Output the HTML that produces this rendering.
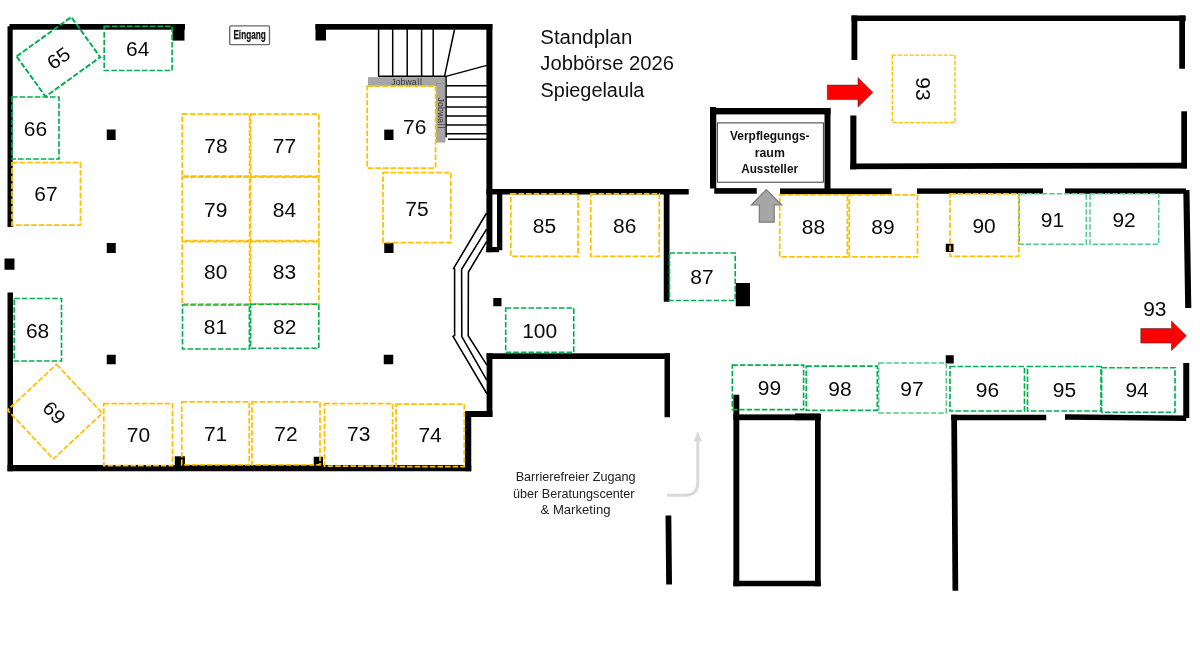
<!DOCTYPE html>
<html><head><meta charset="utf-8"><title>Standplan Jobbörse 2026</title>
<style>
html,body{margin:0;padding:0;background:#fff;}
body{width:1200px;height:672px;overflow:hidden;font-family:"Liberation Sans",sans-serif;}
svg{display:block;font-family:"Liberation Sans",sans-serif;will-change:transform;transform:translateZ(0);}
</style></head><body>
<svg width="1200" height="672" viewBox="0 0 1200 672">
<rect width="1200" height="672" fill="#fff"/>
<g id="walls">
<rect x="9.50" y="24.00" width="175.50" height="5.70" fill="#000"/>
<rect x="7.50" y="26.30" width="5.20" height="200.70" fill="#000"/>
<rect x="172.50" y="24.00" width="12.00" height="16.60" fill="#000"/>
<rect x="315.50" y="24.00" width="176.90" height="5.70" fill="#000"/>
<rect x="315.50" y="24.00" width="10.50" height="16.50" fill="#000"/>
<rect x="486.40" y="24.00" width="6.00" height="228.20" fill="#000"/>
<rect x="486.40" y="189.00" width="202.35" height="5.50" fill="#000"/>
<rect x="497.00" y="194.00" width="5.30" height="56.20" fill="#000"/>
<rect x="486.40" y="247.00" width="12.60" height="5.20" fill="#000"/>
<rect x="663.75" y="189.00" width="5.75" height="112.75" fill="#000"/>
<rect x="7.50" y="292.50" width="5.50" height="178.75" fill="#000"/>
<rect x="7.50" y="465.00" width="463.75" height="6.25" fill="#000"/>
<rect x="465.00" y="411.00" width="6.25" height="60.25" fill="#000"/>
<rect x="465.00" y="411.00" width="27.40" height="6.00" fill="#000"/>
<rect x="486.60" y="353.30" width="5.80" height="63.70" fill="#000"/>
<rect x="486.60" y="353.30" width="183.40" height="5.70" fill="#000"/>
<rect x="664.50" y="353.30" width="5.50" height="63.95" fill="#000"/>
<polygon points="665.50,515.50 671.30,515.50 672.00,584.50 666.20,584.50" fill="#000" />
<rect x="106.75" y="129.50" width="8.85" height="10.50" fill="#000"/>
<rect x="106.75" y="243.00" width="9.00" height="10.00" fill="#000"/>
<rect x="106.75" y="354.75" width="9.00" height="9.50" fill="#000"/>
<rect x="384.25" y="129.60" width="9.25" height="10.40" fill="#000"/>
<rect x="384.25" y="243.00" width="9.25" height="10.00" fill="#000"/>
<rect x="383.75" y="354.75" width="9.50" height="9.50" fill="#000"/>
<rect x="4.50" y="258.50" width="10.00" height="11.25" fill="#000"/>
<rect x="493.30" y="298.00" width="8.20" height="8.25" fill="#000"/>
<rect x="735.75" y="283.00" width="14.25" height="23.25" fill="#000"/>
<rect x="945.75" y="243.75" width="7.75" height="8.25" fill="#000"/>
<rect x="945.75" y="355.25" width="8.00" height="8.25" fill="#000"/>
<rect x="174.80" y="456.30" width="10.10" height="9.70" fill="#000"/>
<rect x="313.75" y="456.75" width="9.25" height="9.25" fill="#000"/>
<rect x="710.00" y="107.00" width="6.25" height="81.50" fill="#000"/>
<rect x="710.00" y="108.00" width="120.50" height="6.40" fill="#000"/>
<rect x="824.50" y="108.00" width="6.00" height="81.00" fill="#000"/>
<rect x="714.25" y="188.10" width="42.50" height="5.65" fill="#000"/>
<rect x="780.00" y="188.40" width="111.60" height="5.80" fill="#000"/>
<rect x="917.00" y="188.40" width="126.00" height="5.40" fill="#000"/>
<rect x="1065.00" y="188.40" width="121.00" height="5.40" fill="#000"/>
<polygon points="1183.30,190.00 1189.50,190.00 1191.30,308.00 1185.20,308.00" fill="#000" />
<rect x="851.50" y="15.50" width="334.25" height="5.50" fill="#000"/>
<rect x="851.50" y="15.50" width="5.80" height="44.50" fill="#000"/>
<rect x="850.30" y="115.50" width="6.10" height="53.80" fill="#000"/>
<polygon points="850.30,163.40 1187.00,162.70 1187.00,168.40 850.30,169.30" fill="#000" />
<rect x="1179.25" y="15.50" width="5.75" height="53.25" fill="#000"/>
<rect x="1181.30" y="111.30" width="5.70" height="57.10" fill="#000"/>
<rect x="733.40" y="394.75" width="5.90" height="191.50" fill="#000"/>
<rect x="733.40" y="414.40" width="87.20" height="5.80" fill="#000"/>
<rect x="795.00" y="413.40" width="25.60" height="6.80" fill="#000"/>
<rect x="815.00" y="414.00" width="5.70" height="172.25" fill="#000"/>
<rect x="733.40" y="580.75" width="87.30" height="5.50" fill="#000"/>
<polygon points="951.25,414.75 957.00,414.75 958.25,590.75 952.50,590.75" fill="#000" />
<rect x="951.25" y="414.75" width="95.00" height="5.50" fill="#000"/>
<polygon points="1065.00,414.25 1186.25,415.60 1186.25,421.00 1065.00,419.75" fill="#000" />
<rect x="1183.25" y="363.00" width="6.00" height="55.00" fill="#000"/>
</g>
<g id="stairs">
<polyline points="378.60,29.00 378.60,76.40" fill="none" stroke="#000" stroke-width="1.5" />
<polyline points="392.70,29.00 392.70,76.40" fill="none" stroke="#000" stroke-width="1.5" />
<polyline points="407.20,29.00 407.20,76.40" fill="none" stroke="#000" stroke-width="1.5" />
<polyline points="421.60,29.00 421.60,76.40" fill="none" stroke="#000" stroke-width="1.5" />
<polyline points="433.20,29.00 433.20,76.40" fill="none" stroke="#000" stroke-width="1.5" />
<polyline points="378.00,76.20 446.00,76.20" fill="none" stroke="#000" stroke-width="1.6" />
<polyline points="454.50,29.50 444.60,76.20" fill="none" stroke="#000" stroke-width="1.5" />
<polyline points="446.00,76.40 486.80,65.40" fill="none" stroke="#000" stroke-width="1.5" />
<polyline points="446.00,76.00 446.00,137.30" fill="none" stroke="#000" stroke-width="1.6" />
<polyline points="446.00,85.80 487.00,85.80" fill="none" stroke="#000" stroke-width="1.5" />
<polyline points="446.00,97.00 487.00,97.00" fill="none" stroke="#000" stroke-width="1.5" />
<polyline points="446.00,107.00 487.00,107.00" fill="none" stroke="#000" stroke-width="1.5" />
<polyline points="446.00,116.10 487.00,116.10" fill="none" stroke="#000" stroke-width="1.5" />
<polyline points="446.00,125.00 487.00,125.00" fill="none" stroke="#000" stroke-width="1.5" />
<polyline points="446.00,133.70 487.00,133.70" fill="none" stroke="#000" stroke-width="1.5" />
<polyline points="448.00,139.30 487.00,139.30" fill="none" stroke="#000" stroke-width="1.5" />
<polyline points="486.60,213.00 453.60,268.40 454.60,269.00 454.60,335.60 453.00,336.30 486.90,393.75" fill="none" stroke="#000" stroke-width="1.55" />
<polyline points="486.60,229.10 461.60,269.30 461.80,336.60 486.90,380.40" fill="none" stroke="#000" stroke-width="1.55" />
<polyline points="486.60,241.60 468.40,272.00 468.20,335.70 486.90,365.20" fill="none" stroke="#000" stroke-width="1.55" />
</g>
<rect x="368.4" y="77.7" width="76.6" height="7.6" fill="#A6A6A6" stroke="#8c8c8c" stroke-width="0.6"/>
<rect x="436.6" y="83.6" width="8.4" height="58.5" fill="#A6A6A6" stroke="#8c8c8c" stroke-width="0.6"/>
<text x="391.2" y="84.7" font-size="8.6" fill="#333" letter-spacing="0.15">Jobwa<tspan dx="0.45">l</tspan><tspan dx="0.75">l</tspan></text>
<text transform="translate(437.5,97.6) rotate(90)" font-size="8.6" fill="#333" letter-spacing="0.15">Jobwa<tspan dx="0.45">l</tspan><tspan dx="0.75">l</tspan></text>
<g id="stands">
<rect x="12.00" y="162.50" width="68.50" height="62.50" fill="none" stroke="#FFC000" stroke-width="1.75" stroke-dasharray="5.6 2.0" stroke-dashoffset="0"/>
<rect x="182.20" y="114.10" width="67.40" height="62.10" fill="none" stroke="#FFC000" stroke-width="1.75" stroke-dasharray="5.6 2.0" stroke-dashoffset="0"/>
<rect x="250.60" y="114.10" width="68.30" height="62.10" fill="none" stroke="#FFC000" stroke-width="1.75" stroke-dasharray="5.6 2.0" stroke-dashoffset="0"/>
<rect x="182.20" y="177.20" width="67.40" height="63.50" fill="none" stroke="#FFC000" stroke-width="1.75" stroke-dasharray="5.6 2.0" stroke-dashoffset="0"/>
<rect x="250.60" y="177.20" width="68.30" height="63.50" fill="none" stroke="#FFC000" stroke-width="1.75" stroke-dasharray="5.6 2.0" stroke-dashoffset="0"/>
<rect x="182.20" y="241.70" width="67.40" height="62.10" fill="none" stroke="#FFC000" stroke-width="1.75" stroke-dasharray="5.6 2.0" stroke-dashoffset="0"/>
<rect x="250.60" y="241.70" width="68.30" height="62.10" fill="none" stroke="#FFC000" stroke-width="1.75" stroke-dasharray="5.6 2.0" stroke-dashoffset="0"/>
<rect x="367.20" y="86.00" width="68.40" height="82.00" fill="none" stroke="#FFC000" stroke-width="1.75" stroke-dasharray="5.6 2.0" stroke-dashoffset="0"/>
<rect x="383.00" y="172.50" width="67.80" height="70.00" fill="none" stroke="#FFC000" stroke-width="1.75" stroke-dasharray="5.6 2.0" stroke-dashoffset="0"/>
<rect x="510.80" y="193.80" width="67.30" height="62.50" fill="none" stroke="#FFC000" stroke-width="1.75" stroke-dasharray="5.6 2.0" stroke-dashoffset="0"/>
<rect x="590.75" y="193.80" width="68.55" height="62.45" fill="none" stroke="#FFC000" stroke-width="1.75" stroke-dasharray="5.6 2.0" stroke-dashoffset="0"/>
<rect x="779.70" y="194.90" width="67.70" height="62.00" fill="none" stroke="#FFC000" stroke-width="1.75" stroke-dasharray="5.6 2.0" stroke-dashoffset="0"/>
<rect x="849.20" y="194.90" width="68.30" height="62.00" fill="none" stroke="#FFC000" stroke-width="1.75" stroke-dasharray="5.6 2.0" stroke-dashoffset="0"/>
<rect x="950.00" y="193.75" width="68.75" height="62.50" fill="none" stroke="#FFC000" stroke-width="1.75" stroke-dasharray="5.6 2.0" stroke-dashoffset="0"/>
<rect x="892.30" y="55.10" width="62.70" height="67.50" fill="none" stroke="#FFC000" stroke-width="1.45" stroke-dasharray="4.2 1.5" stroke-dashoffset="0"/>
<rect x="103.75" y="403.50" width="68.75" height="62.00" fill="none" stroke="#FFC000" stroke-width="1.75" stroke-dasharray="5.6 2.0" stroke-dashoffset="0"/>
<rect x="181.75" y="401.75" width="67.50" height="63.00" fill="none" stroke="#FFC000" stroke-width="1.75" stroke-dasharray="5.6 2.0" stroke-dashoffset="0"/>
<rect x="252.00" y="401.75" width="68.00" height="63.00" fill="none" stroke="#FFC000" stroke-width="1.75" stroke-dasharray="5.6 2.0" stroke-dashoffset="0"/>
<rect x="324.50" y="403.50" width="68.10" height="62.50" fill="none" stroke="#FFC000" stroke-width="1.75" stroke-dasharray="5.6 2.0" stroke-dashoffset="0"/>
<rect x="396.00" y="404.00" width="68.25" height="62.50" fill="none" stroke="#FFC000" stroke-width="1.75" stroke-dasharray="5.6 2.0" stroke-dashoffset="0"/>
<rect x="-33.50" y="-33.50" width="67.00" height="67.00" transform="translate(54.9,411.7) rotate(46.9)" fill="none" stroke="#FFC000" stroke-width="1.75" stroke-dasharray="5.6 2.0"/>
<rect x="104.20" y="26.30" width="67.90" height="44.20" fill="none" stroke="#00B050" stroke-width="1.65" stroke-dasharray="5.6 2.0" stroke-dashoffset="0"/>
<rect x="12.00" y="97.00" width="47.00" height="62.00" fill="none" stroke="#00B050" stroke-width="1.65" stroke-dasharray="5.6 2.0" stroke-dashoffset="0"/>
<rect x="14.25" y="298.50" width="47.25" height="62.50" fill="none" stroke="#00B050" stroke-width="1.65" stroke-dasharray="5.6 2.0" stroke-dashoffset="0"/>
<rect x="182.50" y="305.00" width="66.90" height="44.00" fill="none" stroke="#00B050" stroke-width="1.65" stroke-dasharray="5.6 2.0" stroke-dashoffset="0"/>
<rect x="250.60" y="304.20" width="68.20" height="44.00" fill="none" stroke="#00B050" stroke-width="1.65" stroke-dasharray="5.6 2.0" stroke-dashoffset="0"/>
<rect x="669.50" y="253.00" width="65.70" height="47.50" fill="none" stroke="#00B050" stroke-width="1.65" stroke-dasharray="5.6 2.0" stroke-dashoffset="0"/>
<rect x="505.70" y="308.00" width="68.05" height="44.30" fill="none" stroke="#00B050" stroke-width="1.65" stroke-dasharray="5.6 2.0" stroke-dashoffset="0"/>
<rect x="732.30" y="365.10" width="71.30" height="44.50" fill="none" stroke="#00B050" stroke-width="1.65" stroke-dasharray="5.6 2.0" stroke-dashoffset="0"/>
<rect x="806.30" y="366.10" width="71.00" height="44.20" fill="none" stroke="#00B050" stroke-width="1.65" stroke-dasharray="5.6 2.0" stroke-dashoffset="0"/>
<rect x="950.00" y="366.50" width="74.50" height="44.50" fill="none" stroke="#00B050" stroke-width="1.65" stroke-dasharray="5.6 2.0" stroke-dashoffset="0"/>
<rect x="1027.50" y="366.50" width="73.50" height="44.50" fill="none" stroke="#00B050" stroke-width="1.65" stroke-dasharray="5.6 2.0" stroke-dashoffset="0"/>
<rect x="1101.60" y="367.75" width="73.40" height="44.50" fill="none" stroke="#00B050" stroke-width="1.65" stroke-dasharray="5.6 2.0" stroke-dashoffset="0"/>
<rect x="-33.70" y="-24.75" width="67.40" height="49.50" transform="translate(58.4,56.8) rotate(-35.8)" fill="none" stroke="#00B050" stroke-width="1.95" stroke-dasharray="5.6 2.0"/>
<rect x="1019.25" y="193.75" width="67.00" height="50.50" fill="none" stroke="#50CA8A" stroke-width="1.45" stroke-dasharray="5.4 2.1" stroke-dashoffset="0"/>
<rect x="1090.00" y="193.75" width="68.75" height="50.50" fill="none" stroke="#50CA8A" stroke-width="1.45" stroke-dasharray="5.4 2.1" stroke-dashoffset="0"/>
<rect x="878.75" y="363.00" width="67.50" height="50.00" fill="none" stroke="#50CA8A" stroke-width="1.45" stroke-dasharray="5.4 2.1" stroke-dashoffset="0"/>
</g>
<polygon points="827.30,85.10 858.00,85.10 858.00,77.60 872.90,92.40 858.00,107.10 858.00,99.60 827.30,99.60" fill="#FF0000" stroke="#5a2a2a" stroke-width="0.6"/>
<polygon points="1140.80,328.50 1171.50,328.50 1171.50,321.00 1186.40,335.80 1171.50,350.50 1171.50,343.00 1140.80,343.00" fill="#FF0000" stroke="#5a2a2a" stroke-width="0.6"/>
<polygon points="766.30,189.60 781.60,205.00 774.20,205.00 774.20,222.20 759.30,222.20 759.30,205.00 751.40,205.00" fill="#A6A6A6" stroke="#7a7a7a" stroke-width="1.2"/>
<path d="M667,495.3 H685 Q697.8,495.3 697.8,482 V439" fill="none" stroke="#D9D9D9" stroke-width="3"/>
<polygon points="697.8,431 701.8,441.5 693.8,441.5" fill="#D9D9D9"/>
<rect x="229.7" y="25.8" width="39.8" height="18.8" rx="1.2" fill="#fff" stroke="#6a6a6a" stroke-width="1.35"/>
<text x="233.4" y="38.5" font-size="12.5" font-weight="bold" textLength="32.4" lengthAdjust="spacingAndGlyphs" fill="#111" stroke="#111" stroke-width="0.25">Eingang</text>
<rect x="717.4" y="122.9" width="106" height="59.3" fill="#fff" stroke="#3a3a3a" stroke-width="1"/>
<g font-weight="bold" font-size="12.3" text-anchor="middle" fill="#111">
<text x="769.8" y="140.1" textLength="79.5" lengthAdjust="spacingAndGlyphs">Verpflegungs-</text>
<text x="769.8" y="156.9">raum</text>
<text x="769.6" y="172.5" textLength="56.8" lengthAdjust="spacingAndGlyphs">Aussteller</text>
</g>
<g font-size="19.6" fill="#111">
<text x="540.3" y="43.6" textLength="92" lengthAdjust="spacingAndGlyphs">Standplan</text>
<text x="540.3" y="69.9" textLength="133.7" lengthAdjust="spacingAndGlyphs">Jobbörse 2026</text>
<text x="540.6" y="96.8" textLength="103.8" lengthAdjust="spacingAndGlyphs">Spiegelaula</text>
</g>
<g font-size="12.6" text-anchor="middle" fill="#222">
<text x="575.6" y="481.3" textLength="119.8" lengthAdjust="spacingAndGlyphs">Barrierefreier Zugang</text>
<text x="573.8" y="498" textLength="121.5" lengthAdjust="spacingAndGlyphs">über Beratungscenter</text>
<text x="575.5" y="514.3" textLength="70" lengthAdjust="spacingAndGlyphs">&amp; Marketing</text>
</g>
<g font-size="19.6" text-anchor="middle" fill="#0a0a0a">
<text x="137.7" y="55.8" textLength="23.3" lengthAdjust="spacingAndGlyphs">64</text>
<text x="35.4" y="135.5" textLength="23.3" lengthAdjust="spacingAndGlyphs">66</text>
<text x="46" y="200.5" textLength="23.3" lengthAdjust="spacingAndGlyphs">67</text>
<text x="37.6" y="337.9" textLength="23.3" lengthAdjust="spacingAndGlyphs">68</text>
<text x="216" y="152.6" textLength="23.3" lengthAdjust="spacingAndGlyphs">78</text>
<text x="284.5" y="152.6" textLength="23.3" lengthAdjust="spacingAndGlyphs">77</text>
<text x="215.7" y="216.7" textLength="23.3" lengthAdjust="spacingAndGlyphs">79</text>
<text x="284.5" y="216.7" textLength="23.3" lengthAdjust="spacingAndGlyphs">84</text>
<text x="215.7" y="279.25" textLength="23.3" lengthAdjust="spacingAndGlyphs">80</text>
<text x="284.5" y="279.25" textLength="23.3" lengthAdjust="spacingAndGlyphs">83</text>
<text x="215.5" y="334.2" textLength="23.3" lengthAdjust="spacingAndGlyphs">81</text>
<text x="284.7" y="333.5" textLength="23.3" lengthAdjust="spacingAndGlyphs">82</text>
<text x="414.75" y="134.3" textLength="23.3" lengthAdjust="spacingAndGlyphs">76</text>
<text x="416.9" y="215.5" textLength="23.3" lengthAdjust="spacingAndGlyphs">75</text>
<text x="544.4" y="233" textLength="23.3" lengthAdjust="spacingAndGlyphs">85</text>
<text x="624.75" y="233" textLength="23.3" lengthAdjust="spacingAndGlyphs">86</text>
<text x="701.9" y="284.25" textLength="23.3" lengthAdjust="spacingAndGlyphs">87</text>
<text x="813.4" y="233.5" textLength="23.3" lengthAdjust="spacingAndGlyphs">88</text>
<text x="883" y="233.5" textLength="23.3" lengthAdjust="spacingAndGlyphs">89</text>
<text x="984.1" y="233" textLength="23.3" lengthAdjust="spacingAndGlyphs">90</text>
<text x="1052.5" y="227.25" textLength="23.3" lengthAdjust="spacingAndGlyphs">91</text>
<text x="1124.1" y="227.25" textLength="23.3" lengthAdjust="spacingAndGlyphs">92</text>
<text x="1154.8" y="315.7" textLength="23.3" lengthAdjust="spacingAndGlyphs">93</text>
<text x="539.7" y="338" textLength="35.0" lengthAdjust="spacingAndGlyphs">100</text>
<text x="769.4" y="394.75" textLength="23.3" lengthAdjust="spacingAndGlyphs">99</text>
<text x="840" y="395.5" textLength="23.3" lengthAdjust="spacingAndGlyphs">98</text>
<text x="911.9" y="395.5" textLength="23.3" lengthAdjust="spacingAndGlyphs">97</text>
<text x="987.5" y="396.5" textLength="23.3" lengthAdjust="spacingAndGlyphs">96</text>
<text x="1064.4" y="397.25" textLength="23.3" lengthAdjust="spacingAndGlyphs">95</text>
<text x="1137.1" y="397.25" textLength="23.3" lengthAdjust="spacingAndGlyphs">94</text>
<text x="138.4" y="441.5" textLength="23.3" lengthAdjust="spacingAndGlyphs">70</text>
<text x="215.6" y="440.5" textLength="23.3" lengthAdjust="spacingAndGlyphs">71</text>
<text x="286" y="440.5" textLength="23.3" lengthAdjust="spacingAndGlyphs">72</text>
<text x="358.75" y="441" textLength="23.3" lengthAdjust="spacingAndGlyphs">73</text>
<text x="430.1" y="442.25" textLength="23.3" lengthAdjust="spacingAndGlyphs">74</text>
<text transform="translate(58.6,58.2) rotate(-35.6)" y="6.8" textLength="23.3" lengthAdjust="spacingAndGlyphs">65</text>
<text transform="translate(54.2,412.6) rotate(46.9)" y="6.8" textLength="23.3" lengthAdjust="spacingAndGlyphs">69</text>
<text transform="translate(923,89) rotate(90)" y="6.8" textLength="23.3" lengthAdjust="spacingAndGlyphs">93</text>
</g>
</svg>
</body></html>
